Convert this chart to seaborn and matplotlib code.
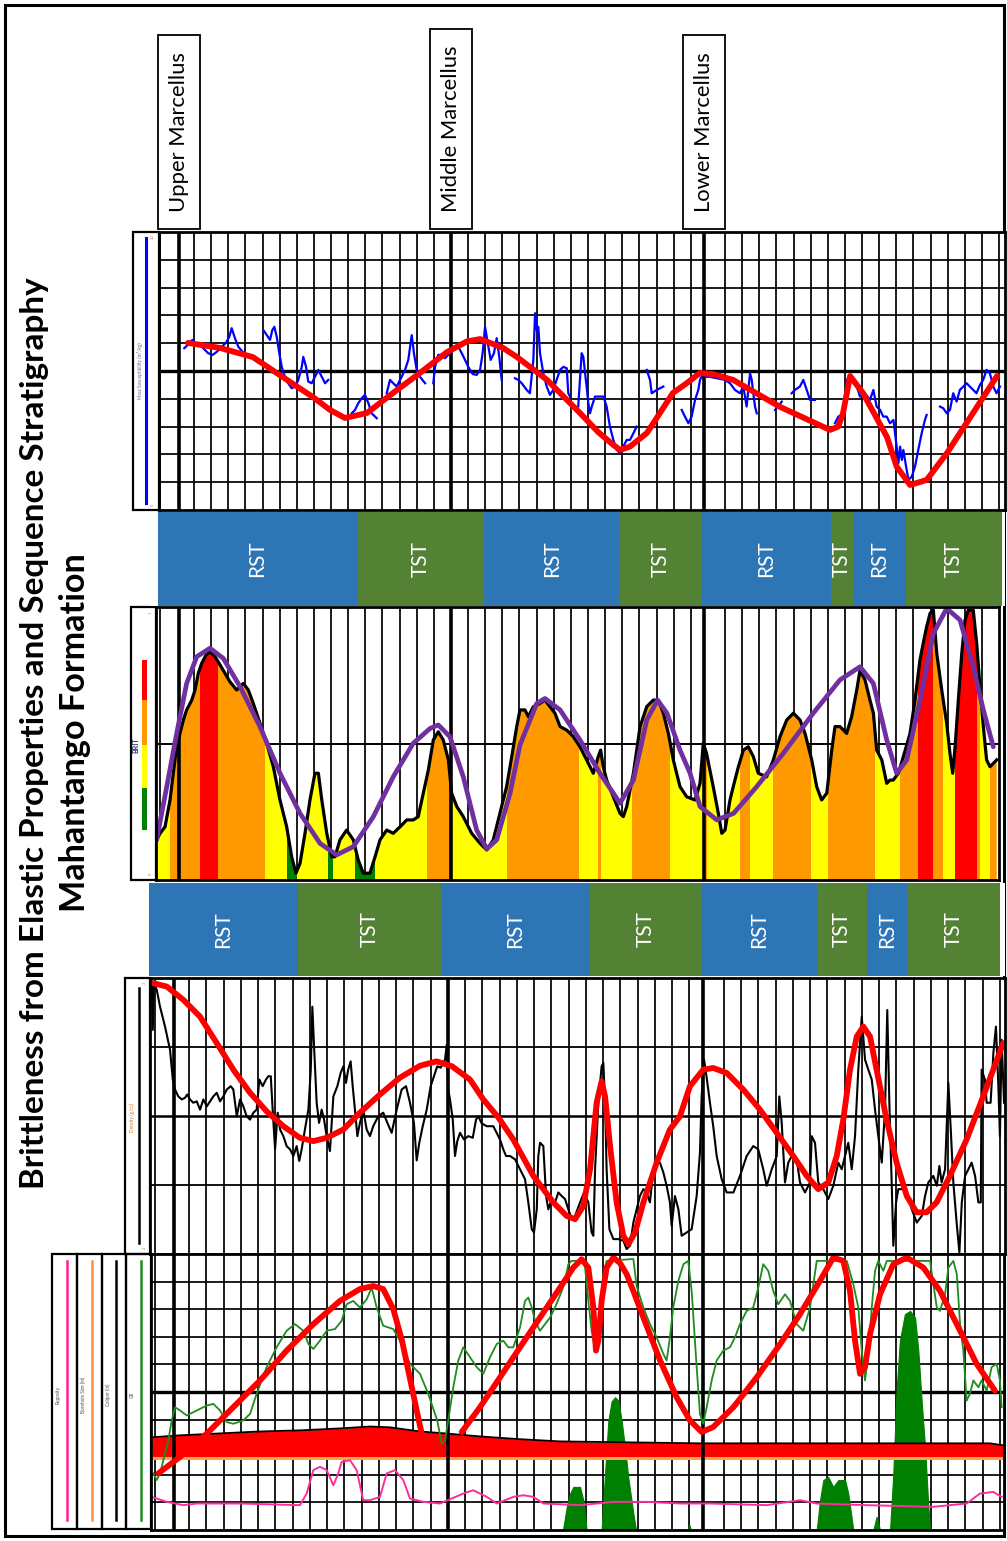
import numpy as np
import pandas as pd
import matplotlib
matplotlib.use("Agg")
import matplotlib.pyplot as plt
import seaborn as sns
from matplotlib.patches import Rectangle, Polygon
from matplotlib.transforms import blended_transform_factory

plt.rcParams['font.family'] = ['Lato', 'DejaVu Sans']

NaN = np.nan

# ---------------------------------------------------------------- data
title_line1 = "Brittleness from Elastic Properties and Sequence Stratigraphy"
title_line2 = "Mahantango Formation"

formation_tops = ["Upper Marcellus", "Middle Marcellus", "Lower Marcellus"]
top_depths = [-0.85, 15.0, 29.8]

# magnetic susceptibility (blue, with gaps)
mag_depth = [
    -0.57, -0.43, -0.23, -0.08, 0.12, 0.35, 0.54, 0.83, 1.09, 1.33, 1.62, 1.87, 2.06, 2.20, 2.39, 2.59, 2.84, NaN,
    4.05, 4.25, 4.44, 4.57, 4.69, 4.83, 4.98, 5.12, 5.31, 5.50, 5.70, 5.90, 6.09, 6.29, 6.38, 6.54, 6.67, 6.87, 7.06, 7.26, 7.46, 7.65, 7.84, NaN,
    9.21, 9.40, 9.59, 9.79, 9.98, 10.18, 10.37, 10.67, NaN,
    11.25, 11.44, 11.63, 11.83, 12.12, 12.32, 12.51, 12.71, 12.84, 13.00, 13.19, 13.49, NaN,
    13.97, 14.07, 14.26, 14.46, 14.65, 14.94, 15.14, 15.43, 15.63, 15.82, 16.01, 16.27, 16.50, 16.70, 16.85, 16.99, 17.15, 17.32, 17.51, 17.67, 17.82, 17.96, NaN,
    18.74, 18.93, 19.13, 19.42, 19.61, 19.81, 19.91, 20.01, 20.10, 20.20, 20.39, 20.59, 20.78, 20.97, 21.17, 21.37, 21.56, 21.76, 21.85, 21.95, NaN,
    22.43, 22.53, 22.63, 22.73, 22.83, 22.92, 23.02, 23.12, 23.22, 23.41, 23.70, 23.90, 24.09, 24.28, 24.48, 24.68, 24.87, 25.06, 25.26, 25.45, 25.65, 25.84, NaN,
    26.43, 26.62, 26.72, 27.01, 27.40, NaN,
    28.47, 28.66, 28.86, 29.05, 29.25, 29.44, 29.54, 29.73, 29.92, 30.12, 30.99, 31.29, 31.58, 31.87, 32.07, 32.26, 32.46, 32.56, 32.65, 32.75, 32.85, NaN,
    33.92, 34.11, 34.31, NaN,
    34.89, 35.08, 35.37, 35.57, 35.77, 35.96, 36.25, NaN,
    37.42, 37.61, 37.81, 38.00, 38.10, 38.30, 38.49, 38.69, 38.88, 39.17, 39.46, 39.66, 39.85, 40.05, 40.24, 40.44, 40.63, 40.83, 41.02, 41.12, 41.22, 41.32, 41.41, 41.57, 41.71, 41.90, 42.09, 42.28, 42.48, 42.67, 42.77, NaN,
    43.55, 43.74, 43.94, 44.13, 44.32, 44.52, 44.71, 44.91, 45.10, 45.29, 45.49, 45.68, 45.88, 46.07, 46.27, 46.46, 46.66, 46.85, 47.05]
mag_value = [
    5.82, 5.90, 6.05, 6.12, 5.97, 5.94, 5.82, 5.64, 5.58, 5.69, 5.87, 6.02, 6.23, 6.54, 6.18, 5.87, 5.69, NaN,
    6.47, 6.29, 6.12, 6.47, 6.59, 6.23, 5.64, 5.15, 4.79, 4.56, 4.38, 4.44, 4.68, 5.15, 5.51, 5.15, 4.62, 4.56, 4.79, 5.04, 4.79, 4.56, 4.68, NaN,
    3.48, 3.60, 3.84, 4.02, 4.14, 3.84, 3.48, 3.30, NaN,
    4.20, 4.68, 4.56, 4.44, 4.79, 5.04, 5.40, 6.29, 5.64, 5.04, 4.79, 4.56, NaN,
    4.56, 5.15, 5.58, 5.58, 5.46, 5.64, 5.76, 5.87, 5.64, 5.40, 5.15, 4.89, 4.86, 5.04, 5.64, 6.59, 6.00, 5.40, 5.64, 6.18, 5.51, 4.68, NaN,
    4.74, 4.68, 4.56, 4.32, 4.20, 5.40, 7.08, 6.47, 6.59, 5.64, 4.92, 4.44, 4.14, 4.32, 4.68, 5.04, 5.15, 5.10, 4.20, 4.08, NaN,
    3.72, 4.68, 5.64, 5.51, 4.92, 4.44, 3.84, 3.48, 3.72, 4.08, 4.08, 4.08, 3.72, 3.00, 2.52, 2.16, 2.04, 2.28, 2.52, 2.52, 2.76, 3.00, NaN,
    5.04, 4.68, 4.20, 4.32, 4.44, NaN,
    3.60, 3.36, 3.12, 3.36, 3.96, 4.32, 4.68, 4.92, 4.79, 4.79, 4.68, 4.56, 4.32, 4.20, 4.44, 3.72, 4.92, 4.68, 4.20, 3.72, 3.48, NaN,
    3.60, 3.72, 3.90, NaN,
    4.20, 4.32, 4.44, 4.68, 4.32, 3.96, 3.96, NaN,
    3.12, 3.36, 3.42, 3.84, 4.68, 4.79, 4.56, 4.44, 4.08, 4.20, 3.96, 4.32, 3.72, 3.60, 3.36, 3.36, 3.12, 3.24, 2.28, 1.68, 2.28, 1.80, 2.16, 1.56, 1.08, 1.20, 1.56, 2.16, 2.76, 3.24, 3.42, NaN,
    3.72, 3.66, 3.48, 3.60, 4.20, 3.90, 4.32, 4.44, 4.56, 4.44, 4.32, 4.20, 4.50, 4.68, 5.04, 4.92, 4.44, 4.20, 4.44]

mag_trend_depth = [-0.35, 1.52, 3.44, 5.43, 6.95, 7.94, 8.81, 10.10, 11.62, 13.19, 14.77, 15.92, 16.70, 18.04, 18.86,
                   20.61, 22.53, 23.60, 24.48, 24.87, 25.45, 26.44, 27.96, 28.76, 29.54, 30.31, 31.47, 34.21, 37.13,
                   37.61, 37.89, 38.30, 39.05, 40.45, 41.02, 41.80, 42.77, 43.96, 46.88]
mag_trend_value = [6.01, 5.83, 5.50, 4.68, 4.06, 3.60, 3.31, 3.49, 4.21, 4.93, 5.68, 6.06, 6.15, 5.83, 5.50,
                   4.68, 3.49, 2.80, 2.34, 2.16, 2.28, 2.77, 4.21, 4.56, 4.93, 4.89, 4.68, 3.71, 2.88,
                   3.00, 3.49, 4.82, 4.21, 2.63, 1.56, 0.90, 1.08, 2.05, 4.82]

# sequence stratigraphy bands
seq_upper_bounds = [-2.10, 9.52, 16.93, 24.87, 29.60, 37.19, 38.47, 41.56, 47.17]
seq_upper_labels = ["RST", "TST", "RST", "TST", "RST", "TST", "RST", "TST"]
seq_lower_bounds = [-2.32, 6.32, 14.61, 23.25, 29.74, 36.40, 39.30, 41.68, 47.01]
seq_lower_labels = ["RST", "TST", "RST", "TST", "RST", "TST", "RST", "TST"]

# brittleness index
brit_depth = [
    -2.18, -1.98, -1.69, -1.40, -1.21, -1.01, -0.82, -0.62, -0.43, -0.13,
    0.06, 0.25, 0.45, 0.70, 0.93, 1.23, 1.52, 1.81, 2.10, 2.49,
    2.88, 3.17, 3.46, 3.85, 4.24, 4.63, 5.02, 5.41, 5.70, 5.95,
    6.19, 6.48, 6.77, 7.06, 7.26, 7.46, 7.75, 8.04, 8.23, 8.52,
    8.91, 9.30, 9.59, 9.88, 10.27, 10.57, 10.86, 11.25, 11.63, 12.03,
    12.42, 12.80, 13.09, 13.39, 13.68, 13.97, 14.26, 14.55, 14.85, 15.04,
    15.34, 15.72, 16.21, 16.70, 17.09, 17.47, 17.86, 18.25, 18.55, 18.84,
    19.03, 19.32, 19.52, 19.81, 20.20, 20.49, 20.78, 21.07, 21.37, 21.76,
    22.14, 22.53, 22.92, 23.31, 23.60, 23.74, 23.89, 24.09, 24.48, 24.87,
    25.06, 25.26, 25.65, 26.04, 26.43, 26.81, 27.11, 27.40, 27.69, 27.98,
    28.37, 28.76, 29.25, 29.54, 29.73, 29.92, 30.31, 30.61, 30.81, 31.00,
    31.29, 31.48, 31.78, 32.07, 32.36, 32.65, 32.94, 33.43, 33.82, 34.21,
    34.60, 34.99, 35.38, 35.67, 36.06, 36.35, 36.64, 36.94, 37.23, 37.42,
    37.71, 38.10, 38.39, 38.69, 38.88, 39.17, 39.46, 39.66, 39.85, 40.15,
    40.44, 40.63, 40.82, 41.12, 41.41, 41.80, 42.09, 42.38, 42.57, 42.77,
    42.97, 43.16, 43.36, 43.65, 43.94, 44.13, 44.29, 44.43, 44.62, 44.82,
    45.01, 45.20, 45.49, 45.69, 45.88, 46.08, 46.27, 46.47, 46.66, 46.86]
brit_value = [
    0.147, 0.171, 0.195, 0.293, 0.391, 0.488, 0.537, 0.586, 0.623, 0.659,
    0.696, 0.757, 0.794, 0.824, 0.836, 0.818, 0.788, 0.757, 0.726, 0.696,
    0.720, 0.696, 0.647, 0.574, 0.501, 0.415, 0.293, 0.195, 0.085, 0.025,
    0.061, 0.171, 0.293, 0.391, 0.391, 0.293, 0.171, 0.085, 0.085, 0.147,
    0.183, 0.147, 0.073, 0.025, 0.025, 0.085, 0.147, 0.183, 0.171, 0.195,
    0.220, 0.220, 0.232, 0.318, 0.403, 0.513, 0.543, 0.513, 0.440, 0.318,
    0.269, 0.232, 0.171, 0.134, 0.110, 0.147, 0.244, 0.342, 0.452, 0.562,
    0.623, 0.623, 0.598, 0.635, 0.647, 0.659, 0.635, 0.611, 0.562, 0.549,
    0.525, 0.488, 0.440, 0.391, 0.452, 0.476, 0.415, 0.366, 0.305, 0.244,
    0.232, 0.269, 0.391, 0.562, 0.635, 0.659, 0.659, 0.611, 0.537, 0.440,
    0.342, 0.305, 0.293, 0.354, 0.501, 0.464, 0.342, 0.244, 0.171, 0.183,
    0.293, 0.342, 0.415, 0.476, 0.488, 0.452, 0.391, 0.378, 0.440, 0.525,
    0.586, 0.611, 0.586, 0.537, 0.440, 0.342, 0.293, 0.318, 0.476, 0.562,
    0.562, 0.537, 0.598, 0.696, 0.769, 0.733, 0.659, 0.611, 0.476, 0.440,
    0.354, 0.366, 0.366, 0.391, 0.452, 0.537, 0.659, 0.806, 0.867, 0.928,
    0.977, 0.989, 0.830, 0.696, 0.574, 0.464, 0.391, 0.488, 0.659, 0.830,
    0.952, 0.989, 0.989, 0.867, 0.708, 0.562, 0.440, 0.415, 0.427, 0.440]

brit_trend_depth = [-2.18, -1.59, -1.01, -0.43, 0.16, 0.93, 1.71, 2.69, 3.85, 5.02, 6.19, 7.36, 8.33, 9.30, 10.47,
                    11.63, 12.80, 13.78, 14.26, 14.94, 15.72, 16.50, 17.09, 17.67, 18.45, 19.03, 20.01, 20.49, 21.37,
                    22.53, 23.70, 24.87, 25.65, 26.43, 27.06, 27.61, 28.37, 28.96, 29.54, 30.52, 31.50, 32.85, 34.40,
                    36.15, 37.71, 38.88, 39.66, 40.44, 41.02, 41.61, 42.38, 43.16, 43.94, 44.72, 45.49, 46.08, 46.66]
brit_trend_value = [0.147, 0.342, 0.537, 0.720, 0.818, 0.849, 0.812, 0.708, 0.562, 0.391, 0.244, 0.134, 0.092, 0.122, 0.232,
                    0.378, 0.501, 0.555, 0.568, 0.525, 0.378, 0.183, 0.114, 0.147, 0.318, 0.495, 0.647, 0.665, 0.623,
                    0.513, 0.391, 0.281, 0.366, 0.586, 0.659, 0.611, 0.476, 0.391, 0.269, 0.220, 0.244, 0.342, 0.464,
                    0.611, 0.733, 0.781, 0.720, 0.513, 0.391, 0.440, 0.659, 0.903, 0.995, 0.952, 0.781, 0.623, 0.488]

brit_class_bounds = [-2.18, -1.40, 0.35, 1.38, 4.14, 5.41, 6.00, 7.84, 8.13, 9.40, 10.57, 13.58, 14.94, 18.25,
                     22.49, 23.60, 23.74, 25.55, 27.79, 29.73, 29.93, 31.87, 32.46, 33.82, 36.00, 37.03, 39.76,
                     41.22, 42.28, 43.16, 43.74, 44.43, 45.69, 45.88, 46.47, 46.94]
brit_class = ['Y', 'O', 'R', 'O', 'Y', 'G', 'Y', 'G', 'Y', 'G', 'Y', 'O', 'Y', 'O', 'Y', 'O', 'Y', 'O',
              'Y', 'O', 'Y', 'O', 'Y', 'O', 'Y', 'O', 'Y', 'O', 'R', 'O', 'Y', 'R', 'O', 'Y', 'O']

# density
dens_depth = [
    -2.16, -2.10, -2.03, -1.87, -1.68, -1.39, -1.10, -0.94, -0.81, -0.62,
    -0.42, -0.23, -0.10, 0.06, 0.25, 0.45, 0.64, 0.83, 1.03, 1.22,
    1.41, 1.61, 1.80, 1.99, 2.19, 2.42, 2.57, 2.77, 2.96, 3.15,
    3.34, 3.54, 3.73, 3.92, 4.08, 4.27, 4.46, 4.60, 4.74, 4.85,
    4.99, 5.14, 5.28, 5.47, 5.66, 5.86, 6.05, 6.24, 6.39, 6.53,
    6.72, 6.92, 7.06, 7.15, 7.25, 7.40, 7.54, 7.69, 7.83, 7.98,
    8.17, 8.37, 8.60, 8.79, 8.95, 9.10, 9.23, 9.37, 9.49, 9.62,
    9.76, 9.91, 10.10, 10.30, 10.49, 10.68, 10.97, 11.26, 11.50, 11.75,
    12.04, 12.33, 12.58, 12.81, 13.04, 13.20, 13.35, 13.55, 13.78, 14.01,
    14.20, 14.39, 14.59, 14.84, 14.94, 15.03, 15.13, 15.29, 15.42, 15.55,
    15.71, 15.94, 16.19, 16.45, 16.64, 16.77, 16.97, 17.26, 17.64, 18.03,
    18.22, 18.38, 18.61, 18.90, 19.19, 19.48, 19.67, 19.87, 20.00, 20.16,
    20.25, 20.35, 20.54, 20.70, 20.83, 21.03, 21.22, 21.41, 21.61, 21.80,
    21.99, 22.19, 22.38, 22.67, 22.90, 23.15, 23.34, 23.44, 23.54, 23.73,
    23.92, 24.02, 24.12, 24.21, 24.37, 24.60, 24.89, 25.18, 25.37, 25.57,
    25.76, 25.95, 26.14, 26.34, 26.53, 26.72, 26.92, 27.11, 27.30, 27.50,
    27.69, 27.88, 27.98, 28.17, 28.37, 28.56, 28.85, 29.14, 29.43, 29.62,
    29.72, 29.86, 30.01, 30.20, 30.39, 30.59, 30.88, 31.17, 31.56, 31.94,
    32.33, 32.71, 33.00, 33.29, 33.49, 33.78, 34.07, 34.22, 34.36, 34.55,
    34.74, 34.94, 35.23, 35.42, 35.71, 36.00, 36.10, 36.29, 36.48, 36.77,
    37.06, 37.35, 37.64, 37.84, 38.03, 38.22, 38.42, 38.61, 38.80, 39.00,
    39.19, 39.38, 39.58, 39.77, 39.96, 40.16, 40.35, 40.48, 40.60, 40.74,
    40.83, 40.99, 41.12, 41.41, 41.70, 41.90, 42.19, 42.48, 42.67, 42.86,
    43.15, 43.35, 43.50, 43.63, 43.83, 44.02, 44.16, 44.31, 44.50, 44.66,
    44.80, 44.99, 45.18, 45.37, 45.57, 45.76, 45.90, 45.95, 46.14, 46.24,
    46.47, 46.63, 46.78, 46.92, 47.01, 47.11, 47.25]
dens_value = [
    0.993, 0.812, 0.981, 0.957, 0.896, 0.824, 0.740, 0.632, 0.596, 0.571,
    0.560, 0.566, 0.578, 0.560, 0.548, 0.553, 0.523, 0.560, 0.535, 0.553,
    0.571, 0.584, 0.553, 0.571, 0.596, 0.608, 0.596, 0.499, 0.560, 0.535,
    0.499, 0.487, 0.512, 0.523, 0.632, 0.608, 0.632, 0.644, 0.644, 0.523,
    0.379, 0.512, 0.451, 0.427, 0.391, 0.379, 0.355, 0.391, 0.337, 0.379,
    0.451, 0.523, 0.668, 0.896, 0.752, 0.548, 0.475, 0.523, 0.487, 0.427,
    0.373, 0.571, 0.608, 0.656, 0.680, 0.620, 0.668, 0.698, 0.608, 0.523,
    0.427, 0.475, 0.523, 0.451, 0.427, 0.463, 0.499, 0.512, 0.475, 0.439,
    0.523, 0.596, 0.608, 0.548, 0.475, 0.339, 0.403, 0.463, 0.523, 0.608,
    0.644, 0.680, 0.675, 0.704, 0.758, 0.596, 0.560, 0.487, 0.355, 0.408,
    0.439, 0.415, 0.427, 0.421, 0.487, 0.499, 0.473, 0.463, 0.463, 0.415,
    0.379, 0.355, 0.355, 0.343, 0.307, 0.271, 0.187, 0.090, 0.078, 0.162,
    0.355, 0.403, 0.391, 0.210, 0.162, 0.199, 0.187, 0.223, 0.210, 0.199,
    0.162, 0.126, 0.138, 0.187, 0.223, 0.187, 0.078, 0.066, 0.307, 0.548,
    0.680, 0.692, 0.548, 0.307, 0.090, 0.054, 0.054, 0.048, 0.018, 0.030,
    0.114, 0.162, 0.210, 0.235, 0.223, 0.187, 0.307, 0.331, 0.331, 0.295,
    0.247, 0.187, 0.102, 0.210, 0.162, 0.066, 0.078, 0.090, 0.210, 0.367,
    0.571, 0.704, 0.639, 0.548, 0.463, 0.355, 0.271, 0.223, 0.223, 0.283,
    0.355, 0.391, 0.379, 0.307, 0.247, 0.307, 0.355, 0.571, 0.475, 0.259,
    0.331, 0.355, 0.343, 0.259, 0.223, 0.259, 0.427, 0.403, 0.259, 0.235,
    0.199, 0.247, 0.331, 0.307, 0.355, 0.403, 0.307, 0.427, 0.668, 0.860,
    0.704, 0.668, 0.632, 0.523, 0.427, 0.331, 0.523, 0.884, 0.548, 0.247,
    0.030, 0.187, 0.235, 0.235, 0.210, 0.162, 0.114, 0.138, 0.210, 0.259,
    0.283, 0.247, 0.319, 0.259, 0.307, 0.620, 0.451, 0.259, 0.114, 0.006,
    0.187, 0.283, 0.307, 0.331, 0.283, 0.187, 0.187, 0.668, 0.632, 0.548,
    0.548, 0.728, 0.824, 0.608, 0.427, 0.776, 0.548]

dens_trend_depth = [-2.07, -1.29, -0.33, 0.64, 1.61, 2.57, 3.54, 4.50, 5.47, 6.43, 7.21, 7.98, 8.95, 9.91, 11.07,
                    12.23, 13.39, 14.36, 15.25, 16.29, 17.06, 17.93, 18.80, 19.96, 21.12, 21.89, 22.38, 22.86, 23.25,
                    23.63, 23.92, 24.12, 24.41, 24.79, 25.18, 25.47, 25.86, 26.34, 27.11, 27.88, 28.46, 29.04, 29.81,
                    30.39, 31.17, 32.13, 33.10, 34.07, 35.03, 35.81, 36.48, 37.06, 37.55, 37.93, 38.32, 38.71, 39.09,
                    39.48, 39.86, 40.44, 41.02, 41.61, 42.18, 42.76, 43.34, 44.11, 45.08, 46.04, 47.20]
dens_trend_value = [0.981, 0.969, 0.921, 0.860, 0.764, 0.668, 0.584, 0.517, 0.463, 0.421, 0.409, 0.421, 0.451, 0.512, 0.578,
                    0.639, 0.682, 0.698, 0.680, 0.632, 0.560, 0.495, 0.415, 0.283, 0.187, 0.138, 0.126, 0.174, 0.307,
                    0.548, 0.626, 0.571, 0.391, 0.187, 0.066, 0.036, 0.078, 0.187, 0.331, 0.451, 0.499, 0.608, 0.668,
                    0.674, 0.656, 0.596, 0.523, 0.439, 0.355, 0.283, 0.235, 0.259, 0.355, 0.487, 0.668, 0.788, 0.824,
                    0.788, 0.668, 0.487, 0.331, 0.210, 0.151, 0.151, 0.187, 0.283, 0.415, 0.571, 0.764]

# gamma ray track
gr_depth = [
    -2.07, -1.87, -1.68, -1.39, -1.20, -1.00, -0.81, -0.52, -0.13, 0.45,
    1.03, 1.41, 1.80, 2.19, 2.57, 3.15, 3.54, 3.92, 4.50, 5.08,
    5.66, 6.14, 6.63, 6.92, 7.21, 7.59, 7.98, 8.46, 8.85, 9.14,
    9.52, 9.91, 10.30, 10.59, 10.88, 11.26, 11.84, 12.23, 12.81, 13.39,
    13.87, 14.39, 14.65, 14.84, 15.03, 15.32, 15.61, 15.90, 16.29, 16.68,
    17.06, 17.45, 17.84, 18.22, 18.51, 18.80, 19.19, 19.48, 19.67, 19.87,
    20.06, 20.35, 20.64, 20.93, 21.22, 21.61, 21.80, 21.99, 22.18, 22.86,
    22.96, 23.15, 23.34, 23.54, 23.83, 24.02, 24.21, 25.76, 25.95, 26.34,
    26.72, 27.11, 27.50, 27.69, 27.88, 28.07, 28.37, 28.66, 28.94, 29.14,
    29.43, 29.62, 29.81, 30.01, 30.30, 30.59, 30.97, 31.36, 31.65, 31.94,
    32.33, 32.71, 33.00, 33.29, 33.58, 33.87, 34.16, 34.55, 34.84, 35.23,
    35.61, 36.00, 36.39, 38.13, 38.51, 38.80, 39.00, 39.19, 39.38, 39.58,
    39.77, 39.96, 40.25, 40.45, 42.96, 43.15, 43.35, 43.54, 43.83, 44.02,
    44.31, 44.51, 44.70, 44.89, 45.08, 45.27, 45.47, 45.76, 45.95, 46.24,
    46.53, 46.82, 47.01, 47.11]
gr_value = [
    0.205, 0.181, 0.205, 0.277, 0.325, 0.397, 0.445, 0.433, 0.415, 0.433,
    0.451, 0.457, 0.433, 0.391, 0.385, 0.397, 0.421, 0.493, 0.590, 0.662,
    0.722, 0.746, 0.722, 0.674, 0.656, 0.686, 0.722, 0.728, 0.758, 0.818,
    0.830, 0.806, 0.836, 0.878, 0.806, 0.740, 0.728, 0.686, 0.602, 0.566,
    0.493, 0.397, 0.313, 0.325, 0.397, 0.517, 0.614, 0.662, 0.626, 0.590,
    0.566, 0.626, 0.674, 0.686, 0.662, 0.662, 0.734, 0.830, 0.842, 0.806,
    0.758, 0.722, 0.746, 0.770, 0.806, 0.866, 0.903, 0.963, 0.975, 0.975,
    0.951, 0.830, 0.722, 0.650, 0.806, 0.927, 0.975, 0.982, 0.884, 0.806,
    0.746, 0.698, 0.638, 0.614, 0.698, 0.806, 0.903, 0.963, 0.975, 0.866,
    0.590, 0.421, 0.385, 0.445, 0.542, 0.614, 0.650, 0.662, 0.698, 0.746,
    0.794, 0.806, 0.878, 0.963, 0.939, 0.866, 0.818, 0.854, 0.830, 0.746,
    0.722, 0.806, 0.975, 0.975, 0.891, 0.806, 0.650, 0.542, 0.638, 0.806,
    0.939, 0.975, 0.939, 0.975, 0.975, 0.891, 0.806, 0.794, 0.854, 0.951,
    0.975, 0.927, 0.746, 0.650, 0.469, 0.493, 0.542, 0.517, 0.542, 0.505,
    0.590, 0.602, 0.542, 0.445]

gr_trend_depth = [-1.78, -0.52, 1.03, 2.57, 4.12, 5.66, 7.21, 8.75, 9.91, 10.68, 11.26, 11.84, 12.35, 12.81, 13.20,
                  13.49, 13.62, NaN,
                  15.81, 16.87, 18.03, 19.19, 20.35, 21.51, 22.28, 22.76, 23.15, 23.44, 23.59, 23.73, 23.92, 24.21,
                  24.60, 24.99, 25.37, 25.76, 26.34, 27.31, 28.27, 29.04, 29.72, 30.39, 31.56, 32.91, 34.27, 35.42,
                  36.58, 37.35, 37.93, 38.32, 38.61, 38.90, 39.19, 39.48, 40.06, 40.83, 41.61, 42.57, 43.54, 44.70,
                  45.66, 46.72]
gr_trend_value = [0.205, 0.265, 0.349, 0.445, 0.542, 0.650, 0.746, 0.830, 0.873, 0.884, 0.873, 0.801, 0.686, 0.549, 0.433,
                  0.349, 0.325, NaN,
                  0.355, 0.445, 0.553, 0.662, 0.770, 0.878, 0.951, 0.981, 0.951, 0.806, 0.650, 0.686, 0.830, 0.951,
                  0.987, 0.967, 0.927, 0.866, 0.770, 0.614, 0.481, 0.397, 0.355, 0.373, 0.445, 0.553, 0.674, 0.782,
                  0.903, 0.987, 0.975, 0.866, 0.686, 0.566, 0.590, 0.710, 0.854, 0.963, 0.987, 0.951, 0.866, 0.722,
                  0.602, 0.505]

gr_band_depth = [-2.14, -0.52, 1.80, 4.12, 6.43, 8.75, 10.49, 11.65, 13.39, 14.84, 16.87, 19.19, 21.51, 24.99,
                 29.62, 35.42, 41.21, 46.43, 47.19]
gr_band_value = [0.336, 0.343, 0.350, 0.357, 0.361, 0.368, 0.375, 0.372, 0.357, 0.350, 0.339, 0.329, 0.321, 0.318,
                 0.314, 0.314, 0.314, 0.314, 0.307]
gr_band_base = 0.264

gr_fill_depth = [21.68, 21.90, 22.09, 22.28, 22.67, 22.86, 23.05,
                 23.92, 24.12, 24.31, 24.50, 24.70, 24.89, 25.08, 25.27, 25.47, 25.76, 25.91,
                 28.90, 29.00, 29.10,
                 36.39, 36.58, 36.77, 37.06, 37.35, 37.64, 38.03, 38.22, 38.51,
                 39.67, 39.86, 40.06,
                 40.64, 40.83, 41.02, 41.21, 41.50, 41.80, 42.09, 42.28, 42.47, 42.67, 42.86, 42.96]
gr_fill_value = [0, 0.084, 0.132, 0.156, 0.156, 0.108, 0,
                 0, 0.205, 0.397, 0.466, 0.481, 0.469, 0.397, 0.301, 0.188, 0.060, 0,
                 0, 0.02, 0,
                 0, 0.108, 0.181, 0.192, 0.156, 0.181, 0.181, 0.132, 0,
                 0, 0.048, 0,
                 0, 0.205, 0.505, 0.686, 0.782, 0.794, 0.770, 0.650, 0.469, 0.301, 0.084, 0]

gr_rug_depth = [-2.16, -1.29, -0.33, 0.45, 2.96, 6.43, 6.82, 7.21, 7.59, 7.98, 8.37, 8.65, 8.85, 9.33, 9.72, 10.10,
                10.49, 11.07, 11.46, 11.94, 12.42, 12.81, 13.58, 14.55, 15.90, 16.48, 17.26, 17.84, 18.80, 19.38,
                19.96, 20.54, 22.67, 24.60, 26.53, 28.46, 30.20, 33.49, 35.42, 36.39, 39.29, 43.15, 45.08, 45.85,
                46.62, 47.11]
gr_rug_value = [0.120, 0.102, 0.090, 0.096, 0.096, 0.090, 0.132, 0.217, 0.229, 0.217, 0.162, 0.205, 0.247, 0.253,
                0.217, 0.108, 0.108, 0.120, 0.205, 0.217, 0.181, 0.114, 0.102, 0.096, 0.132, 0.144, 0.120, 0.096,
                0.120, 0.126, 0.120, 0.096, 0.090, 0.102, 0.102, 0.096, 0.096, 0.090, 0.108, 0.096, 0.090, 0.084,
                0.096, 0.132, 0.138, 0.120]

gr_header_labels = ["Rugosity", "Borehole Size (in)", "Caliper (in)", "GR"]

# ---------------------------------------------------------------- style
SEQ_COL = {"RST": "#2E75B6", "TST": "#548235"}
BRIT_COL = {"Y": "#FFFF00", "O": "#FF9900", "R": "#FF0000", "G": "#008000"}
RED = "#FF0000"

W, H = 1007, 1541
UP = (194.0, 17.13)   # layout: pixel = a + s * depth (upper tracks)
LO = (189.0, 17.25)   # lower tracks

fig = plt.figure(figsize=(W / 100, H / 100), dpi=100)
fig.patch.set_facecolor("white")

deco = fig.add_axes([0, 0, 1, 1])
deco.set_xlim(0, W)
deco.set_ylim(H, 0)
deco.axis("off")


def track(L, T, R, B, lay, ylim, frame=True):
    ax = fig.add_axes([L / W, 1 - B / H, (R - L) / W, (B - T) / H])
    a, s = lay
    ax._lims = ((L - a) / s, (R - a) / s, ylim)
    ax.set_xlim(ax._lims[0], ax._lims[1])
    ax.set_ylim(*ylim)
    ax.set_xticks([])
    ax.set_yticks([])
    ax.set_facecolor("white")
    for sp in ax.spines.values():
        sp.set_linewidth(2.0)
        sp.set_color("black")
        sp.set_zorder(10)
        sp.set_visible(frame)
    return ax


def finish(ax):
    ax.set_xlim(ax._lims[0], ax._lims[1])
    ax.set_ylim(*ax._lims[2])
    ax.set_xlabel("")
    ax.set_ylabel("")
    ax.set_xticks([])
    ax.set_yticks([])


def depth_grid(ax, lw=1.25):
    x0, x1 = ax._lims[0], ax._lims[1]
    for k in range(int(np.ceil(x0)), int(np.floor(x1)) + 1):
        if min(abs(k - t) for t in top_depths) < 0.35:
            continue
        ax.axvline(k, color="black", lw=lw, zorder=1)


def tops(ax, z=3):
    for t in top_depths:
        ax.axvline(t, color="black", lw=2.6, zorder=z)


def curve(ax, x, y, color, lw, z, **kw):
    n = min(len(x), len(y))
    df = pd.DataFrame({"depth": np.asarray(x[:n], float), "value": np.asarray(y[:n], float)})
    df["seg"] = df["depth"].isna().cumsum()
    df = df.dropna()
    sns.lineplot(data=df, x="depth", y="value", units="seg", estimator=None, sort=False,
                 color=color, linewidth=lw, ax=ax, legend=False, zorder=z, **kw)


ROUND = dict(solid_capstyle="round", solid_joinstyle="round")

# ---------------- magnetic susceptibility track
ax_mag = track(159, 232, 1005, 510, UP, (0, 10))
depth_grid(ax_mag)
for i in range(1, 10):
    ax_mag.axhline(i, color="black", lw=2.4 if i == 5 else 1.25, zorder=1)
tops(ax_mag)
curve(ax_mag, mag_depth, mag_value, "#0000FF", 1.6, 4)
curve(ax_mag, mag_trend_depth, mag_trend_value, RED, 4.2, 5, **ROUND)
finish(ax_mag)

# ---------------- sequence band 1
ax_s1 = track(150, 512, 1005, 606, UP, (0, 1), frame=False)
for a, b, lab in zip(seq_upper_bounds[:-1], seq_upper_bounds[1:], seq_upper_labels):
    ax_s1.axvspan(a, b, color=SEQ_COL[lab], lw=0)
    ax_s1.text((a + b) / 2, 0.5, lab, rotation=90, ha="center", va="center", color="white", fontsize=15)
finish(ax_s1)

# ---------------- brittleness track
ax_b = track(156, 607, 999, 880, UP, (0, 1))
depth_grid(ax_b)
ax_b.axhline(0.5, color="black", lw=1.4, zorder=1)
verts = [(brit_depth[0], 0)] + list(zip(brit_depth, brit_value)) + [(brit_depth[-1], 0)]
clip = Polygon(verts, closed=True, facecolor="none", edgecolor="none", transform=ax_b.transData)
ax_b.add_patch(clip)
for a, b, c in zip(brit_class_bounds[:-1], brit_class_bounds[1:], brit_class):
    span = ax_b.axvspan(a, b, color=BRIT_COL[c], lw=0, zorder=2)
    span.set_clip_path(clip)
tops(ax_b)
curve(ax_b, brit_depth, brit_value, "black", 2.3, 4)
curve(ax_b, brit_trend_depth, brit_trend_value, "#7030A0", 3.4, 5, **ROUND)
finish(ax_b)

# ---------------- sequence band 2
ax_s2 = track(145, 883, 1005, 976, LO, (0, 1), frame=False)
for a, b, lab in zip(seq_lower_bounds[:-1], seq_lower_bounds[1:], seq_lower_labels):
    ax_s2.axvspan(a, b, color=SEQ_COL[lab], lw=0)
    ax_s2.text((a + b) / 2, 0.5, lab, rotation=90, ha="center", va="center", color="white", fontsize=15)
finish(ax_s2)

# ---------------- density track
ax_d = track(150, 978, 1005, 1254, LO, (0, 1))
depth_grid(ax_d)
for y in (0.25, 0.5, 0.75):
    ax_d.axhline(y, color="black", lw=1.8 if y == 0.5 else 1.3, zorder=1)
tops(ax_d)
curve(ax_d, dens_depth, dens_value, "black", 1.5, 4)
curve(ax_d, dens_trend_depth, dens_trend_value, RED, 4.2, 5, **ROUND)
finish(ax_d)

# ---------------- GR track
ax_g = track(151, 1254, 1004, 1530, LO, (0, 1))
depth_grid(ax_g)
for i in range(1, 10):
    ax_g.axhline(i / 10, color="black", lw=2.4 if i == 5 else 1.25, zorder=1)
ax_g.fill_between(gr_fill_depth, 0, gr_fill_value, color="#008000", lw=0.8, zorder=2)
ax_g.fill_between(gr_band_depth, gr_band_base, gr_band_value, color=RED, lw=0, zorder=2.5)
ax_g.fill_between(gr_band_depth, gr_band_base - 0.012, gr_band_base, color="#FFA347", lw=0, zorder=2.5)
ax_g.plot(gr_band_depth, gr_band_value, color="black", lw=1.3, zorder=2.6)
tops(ax_g)
curve(ax_g, gr_rug_depth, gr_rug_value, "#FF2D9B", 1.4, 4)
curve(ax_g, gr_depth, gr_value, "#1E8C1E", 1.3, 4.5)
curve(ax_g, gr_trend_depth, gr_trend_value, RED, 4.2, 5, **ROUND)
finish(ax_g)

# ---------------- headers (decorations)
def box(x0, y0, x1, y1, lw=1.6):
    deco.add_patch(Rectangle((x0, y0), x1 - x0, y1 - y0, fill=False, ec="black", lw=lw))

box(133, 232, 159, 510)
deco.plot([146, 146], [238, 503], color="#0000FF", lw=2.2)
deco.text(140, 371, "Mass Susceptibility (m³/kg)", rotation=90, ha="center", va="center", fontsize=3.4, color="#6A6A8A")
deco.text(153, 237, "10", rotation=90, ha="center", va="center", fontsize=3, color="#C08040")
deco.text(153, 505, "0", rotation=90, ha="center", va="center", fontsize=3, color="#C08040")

box(131, 607, 156, 880)
for (ya, yb, c) in [(660, 700, "#FF0000"), (700, 745, "#FF9900"), (745, 788, "#FFFF00"), (788, 830, "#008000")]:
    deco.add_patch(Rectangle((142, ya), 5, yb - ya, color=c, lw=0))
deco.text(136, 745, "BRIT", rotation=90, ha="center", va="center", fontsize=5, color="#1F3864", fontweight="bold")
deco.text(151, 613, "1", rotation=90, ha="center", va="center", fontsize=3, color="#C08040")
deco.text(151, 874, "0", rotation=90, ha="center", va="center", fontsize=3, color="#C08040")

box(125, 978, 150, 1254)
deco.plot([139, 139], [988, 1243], color="black", lw=1.8)
deco.text(132, 1117, "Density (g/cc)", rotation=90, ha="center", va="center", fontsize=3.4, color="#D07A20")
deco.text(145, 983, "3", rotation=90, ha="center", va="center", fontsize=3, color="#C08040")
deco.text(145, 1248, "2", rotation=90, ha="center", va="center", fontsize=3, color="#C08040")

gr_cols = [(52, 77, "#FF1E96"), (77, 102, "#FF9040"), (102, 126, "black"), (126, 151, "#1E8C1E")]
for (x0, x1, c), lab in zip(gr_cols, gr_header_labels):
    box(x0, 1254, x1, 1529)
    xm = (x0 + x1) / 2 + 2
    deco.plot([xm, xm], [1261, 1520], color=c, lw=1.8)
    deco.text(x0 + 6, 1395, lab, rotation=90, ha="center", va="center", fontsize=3.4, color="#505050")

# outer frame
deco.add_patch(Rectangle((5, 5), 999, 1531, fill=False, ec="black", lw=2.2))

# formation top labels
bt = blended_transform_factory(ax_mag.transData, deco.transData)
top_texts = []
for name, d in zip(formation_tops, top_depths):
    t = deco.text(d, 212, name, transform=bt, rotation=90, ha="center", va="bottom", fontsize=12, zorder=21)
    top_texts.append(t)

# title
t1 = deco.text(35, 733, title_line1, rotation=90, ha="center", va="center", fontsize=20, fontweight="bold")
t2 = deco.text(75, 733, title_line2, rotation=90, ha="center", va="center", fontsize=20, fontweight="bold")

fig.canvas.draw()
r = fig.canvas.get_renderer()
for t, target in [(t1, 912), (t2, 357)]:
    h = t.get_window_extent(r).height
    t.set_fontsize(t.get_fontsize() * target / h)
h = top_texts[0].get_window_extent(r).height
fs = top_texts[0].get_fontsize() * 160 / h
for t in top_texts:
    t.set_fontsize(fs)

# label boxes sized around the text: 17 px above/below, ~10 px at the sides, 42 px wide
fig.canvas.draw()
r = fig.canvas.get_renderer()
inv = deco.transData.inverted()
for t in top_texts:
    bb = t.get_window_extent(r)
    (x0, y0), (x1, y1) = inv.transform([(bb.x0, bb.y0), (bb.x1, bb.y1)])
    xc = (x0 + x1) / 2
    ytop, ybot = min(y0, y1) - 17, max(y0, y1) + 17
    deco.add_patch(Rectangle((xc - 21, ytop), 42, ybot - ytop, fc="white", ec="black", lw=1.3, zorder=20))

fig.savefig("out.png", dpi=100, facecolor="white")
